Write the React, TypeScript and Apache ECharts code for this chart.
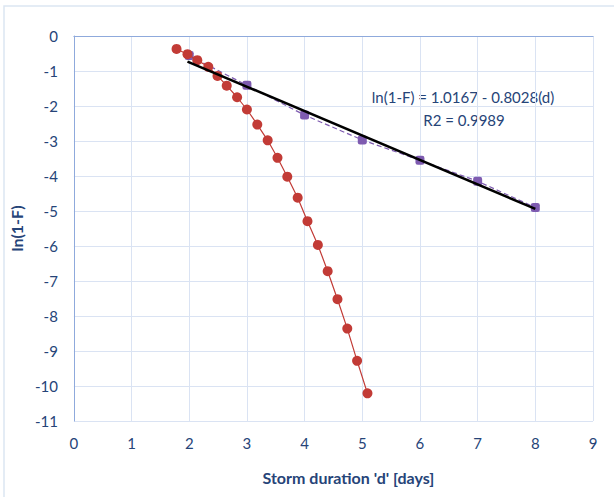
import React, { useEffect, useRef } from "react";
import * as echarts from "echarts";

const redX = [1.78, 1.97, 2.14, 2.33, 2.49, 2.65, 2.83, 3.0, 3.18, 3.36, 3.53, 3.7, 3.88, 4.05, 4.23, 4.4, 4.57, 4.74, 4.91, 5.09];
const redY = [-0.37, -0.52, -0.69, -0.88, -1.14, -1.42, -1.75, -2.1, -2.53, -2.98, -3.48, -4.02, -4.62, -5.29, -5.97, -6.72, -7.52, -8.36, -9.28, -10.21];
const purpleX = [2, 3, 4, 5, 6, 7, 8];
const purpleY = [-0.56, -1.41, -2.26, -2.97, -3.55, -4.15, -4.9];
const fitX = [1.97, 8];
const fitY = [-0.73, -4.94];
const xTicks = [0, 1, 2, 3, 4, 5, 6, 7, 8, 9];
const yTicks = [0, -1, -2, -3, -4, -5, -6, -7, -8, -9, -10, -11];
const equationText = "ln(1-F) = 1.0167 - 0.8028(d)";
const r2Text = "R2 = 0.9989";

const FONT = "Lato, 'Open Sans', sans-serif";
const TXT = "#264478";

export default function App() {
  const ref = useRef<HTMLDivElement>(null);
  useEffect(() => {
    if (!ref.current) return;
    const chart = echarts.init(ref.current, undefined, { renderer: "svg" });
    const zip = (xs: number[], ys: number[]) => xs.map((x, i) => [x, ys[i]]);
    chart.setOption({
      animation: false,
      backgroundColor: "#ffffff",
      grid: { left: 71, top: 36, width: 522, height: 385, containLabel: false },
      xAxis: {
        type: "value",
        min: xTicks[0],
        max: xTicks[xTicks.length - 1],
        interval: 1,
        name: "Storm duration 'd' [days]",
        nameLocation: "middle",
        nameGap: 48,
        nameTextStyle: { color: TXT, fontFamily: FONT, fontWeight: "bold", fontSize: 16, padding: [0, 0, 0, 30] },
        axisLine: { show: true, lineStyle: { color: "#8FAADC", width: 1 } },
        axisTick: { show: false },
        axisLabel: { color: TXT, fontFamily: FONT, fontSize: 15, margin: 14 },
        splitLine: { show: true, lineStyle: { color: "#DAE3F3", width: 1 } },
      },
      yAxis: {
        type: "value",
        min: yTicks[yTicks.length - 1],
        max: yTicks[0],
        interval: 1,
        name: "ln(1-F)",
        nameLocation: "middle",
        nameGap: 46,
        nameTextStyle: { color: TXT, fontFamily: FONT, fontWeight: "bold", fontSize: 16 },
        axisLine: { show: true, onZero: false, lineStyle: { color: "#8FAADC", width: 1 } },
        axisTick: { show: false },
        axisLabel: { color: TXT, fontFamily: FONT, fontSize: 15, margin: 16 },
        splitLine: { show: true, lineStyle: { color: "#DAE3F3", width: 1 } },
      },
      graphic: [
        {
          type: "rect",
          shape: { x: 4, y: 6, width: 700, height: 600 },
          style: { fill: "none", stroke: "#DCE6F2", lineWidth: 1.5 },
          silent: true,
          z: -1,
        },
        {
          type: "text",
          x: 463,
          y: 97,
          style: { text: equationText, fill: TXT, font: `15px ${FONT}`, textAlign: "center", textVerticalAlign: "middle" },
        },
        {
          type: "text",
          x: 464,
          y: 120,
          style: { text: r2Text, fill: TXT, font: `15px ${FONT}`, textAlign: "center", textVerticalAlign: "middle" },
        },
      ],
      series: [
        {
          type: "line",
          data: zip(purpleX, purpleY),
          symbol: "roundRect",
          symbolSize: 9,
          itemStyle: { color: "#7E5BB0" },
          lineStyle: { color: "#7E5BB0", width: 1.2, type: [5, 3] },
          z: 2,
        },
        {
          type: "line",
          data: zip(redX, redY),
          symbol: "circle",
          symbolSize: 10,
          itemStyle: { color: "#C23B36" },
          lineStyle: { color: "#C23B36", width: 1.2 },
          z: 3,
        },
        {
          type: "line",
          data: zip(fitX, fitY),
          symbol: "none",
          lineStyle: { color: "#000000", width: 2.5 },
          z: 4,
        },
      ],
    });
    return () => chart.dispose();
  }, []);
  return <div ref={ref} style={{ width: 614, height: 497, position: "absolute", left: 0, top: 0 }} />;
}
